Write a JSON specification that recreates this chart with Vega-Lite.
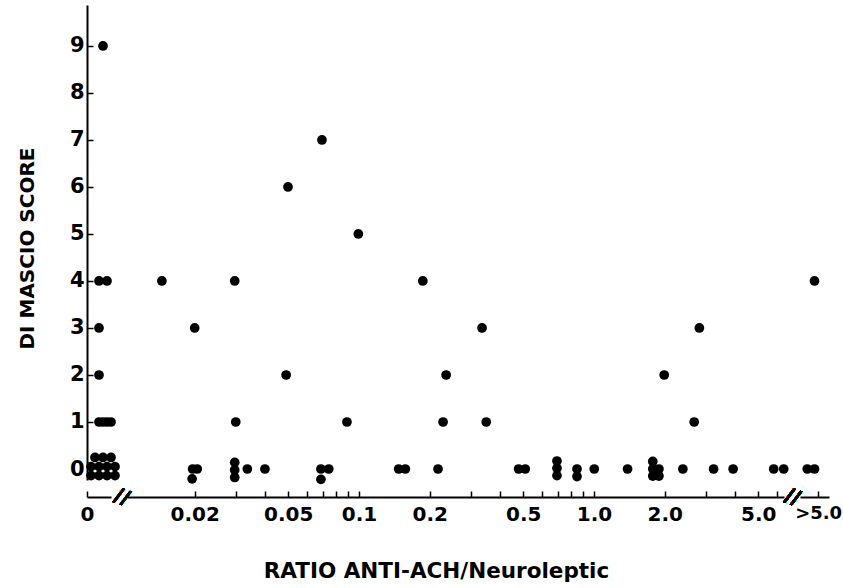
{
  "$schema": "https://vega.github.io/schema/vega-lite/v6.json",
  "background": "white",
  "padding": {"left": 17, "top": 5, "right": 0, "bottom": 0},
  "spacing": 16,
  "bounds": "flush",
  "config": {
    "view": {"stroke": null},
    "font": "DejaVu Sans",
    "axis": {
      "labelFont": "DejaVu Sans", "labelFontWeight": "bold", "labelFontSize": 20, "labelColor": "black",
      "titleFont": "DejaVu Sans", "titleFontWeight": "bold", "titleFontSize": 20, "titleColor": "black",
      "domainColor": "black", "domainWidth": 2, "tickColor": "black", "tickWidth": 1.5, "tickSize": -6,
      "grid": false, "labelOverlap": false, "labelFlush": false, "labelBound": false
    }
  },
  "datasets": {
    "zero": [
      {"tie_rank": 4, "score": 9},
      {"tie_rank": 3, "score": 4}, {"tie_rank": 5, "score": 4},
      {"tie_rank": 3, "score": 3},
      {"tie_rank": 3, "score": 2},
      {"tie_rank": 3, "score": 1}, {"tie_rank": 4, "score": 1}, {"tie_rank": 5, "score": 1}, {"tie_rank": 6, "score": 1},
      {"tie_rank": 2, "score": 0.245}, {"tie_rank": 4, "score": 0.245}, {"tie_rank": 6, "score": 0.245},
      {"tie_rank": 1, "score": 0.05}, {"tie_rank": 3, "score": 0.05}, {"tie_rank": 5, "score": 0.05}, {"tie_rank": 7, "score": 0.05},
      {"tie_rank": 1, "score": -0.14}, {"tie_rank": 3, "score": -0.14}, {"tie_rank": 5, "score": -0.14}, {"tie_rank": 7, "score": -0.14}
    ],
    "measured": [
      {"ratio": 0.0696, "score": 7},
      {"ratio": 0.0499, "score": 6},
      {"ratio": 0.0994, "score": 5},
      {"ratio": 0.0145, "score": 4}, {"ratio": 0.0296, "score": 4}, {"ratio": 0.187, "score": 4},
      {"ratio": 0.02, "score": 3}, {"ratio": 0.334, "score": 3}, {"ratio": 2.81, "score": 3},
      {"ratio": 0.049, "score": 2}, {"ratio": 0.235, "score": 2}, {"ratio": 1.99, "score": 2},
      {"ratio": 0.0299, "score": 1}, {"ratio": 0.0889, "score": 1}, {"ratio": 0.228, "score": 1}, {"ratio": 0.348, "score": 1}, {"ratio": 2.67, "score": 1},
      {"ratio": 0.0196, "score": 0}, {"ratio": 0.0205, "score": 0}, {"ratio": 0.0195, "score": -0.21},
      {"ratio": 0.0296, "score": 0.14}, {"ratio": 0.0296, "score": -0.02}, {"ratio": 0.0296, "score": -0.18},
      {"ratio": 0.0335, "score": 0},
      {"ratio": 0.0398, "score": 0},
      {"ratio": 0.0689, "score": 0}, {"ratio": 0.0744, "score": 0}, {"ratio": 0.0689, "score": -0.22},
      {"ratio": 0.1476, "score": 0}, {"ratio": 0.1575, "score": 0},
      {"ratio": 0.217, "score": 0},
      {"ratio": 0.478, "score": 0}, {"ratio": 0.51, "score": 0},
      {"ratio": 0.696, "score": 0.17}, {"ratio": 0.696, "score": 0.015}, {"ratio": 0.696, "score": -0.14},
      {"ratio": 0.847, "score": 0}, {"ratio": 0.847, "score": -0.16},
      {"ratio": 1.003, "score": 0},
      {"ratio": 1.39, "score": 0},
      {"ratio": 1.78, "score": 0.16}, {"ratio": 1.78, "score": 0}, {"ratio": 1.78, "score": -0.15},
      {"ratio": 1.89, "score": 0}, {"ratio": 1.89, "score": -0.15},
      {"ratio": 2.39, "score": 0},
      {"ratio": 3.23, "score": 0},
      {"ratio": 3.91, "score": 0},
      {"ratio": 5.82, "score": 0},
      {"ratio": 6.42, "score": 0}
    ],
    "above5": [
      {"tie_rank": 1, "score": 0}, {"tie_rank": 2, "score": 0}, {"tie_rank": 2, "score": 4}
    ]
  },
  "hconcat": [
    {
      "width": 24,
      "height": 475,
      "data": {"name": "zero"},
      "layer": [
        {
          "mark": {"type": "circle", "size": 95, "opacity": 1, "color": "black"},
          "encoding": {
            "x": {"field": "tie_rank", "type": "quantitative",
              "scale": {"domain": [0, 6], "nice": false, "zero": false},
              "axis": {"values": [0], "labelExpr": "'0'", "title": null, "offset": 17, "labelPadding": 13}},
            "y": {"field": "score", "type": "quantitative",
              "scale": {"domain": [-0.234, 9.872], "nice": false, "zero": false},
              "axis": {"values": [0, 1, 2, 3, 4, 5, 6, 7, 8, 9], "format": "d", "title": "DI MASCIO SCORE",
                "labelFontSize": 21, "labelPadding": 9, "titlePadding": 32, "titleY": 243}}
          }
        },
        {
          "mark": {"type": "text", "text": "//", "fontSize": 20, "fontWeight": "bold", "angle": 20, "color": "black", "font": "DejaVu Sans"},
          "encoding": {"x": {"datum": 8.75}, "y": {"datum": -0.596}}
        }
      ]
    },
    {
      "width": 657,
      "height": 475,
      "data": {"name": "measured"},
      "layer": [
        {
          "mark": {"type": "circle", "size": 95, "opacity": 1, "color": "black"},
          "encoding": {
            "x": {"field": "ratio", "type": "quantitative",
              "scale": {"type": "log", "domain": [0.010302, 6.438], "nice": false},
              "axis": {
                "values": [0.02, 0.03, 0.04, 0.05, 0.06, 0.07, 0.08, 0.09, 0.1, 0.2, 0.3, 0.4, 0.5, 0.6, 0.7, 0.8, 0.9, 1, 2, 3, 4, 5, 6],
                "labelExpr": "indexof([0.02, 0.05, 0.1, 0.2, 0.5, 1, 2, 5], datum.value) >= 0 ? (datum.value >= 1 ? format(datum.value, '.1f') : format(datum.value, '~g')) : ''",
                "title": "RATIO ANTI-ACH/Neuroleptic", "titleX": 309, "titlePadding": 36, "titleFontSize": 21.5,
                "offset": 17, "labelPadding": 13}},
            "y": {"field": "score", "type": "quantitative",
              "scale": {"domain": [-0.234, 9.872], "nice": false, "zero": false},
              "axis": null}
          }
        },
        {
          "mark": {"type": "text", "text": "//", "fontSize": 20, "fontWeight": "bold", "angle": 20, "color": "black", "font": "DejaVu Sans"},
          "encoding": {"x": {"datum": 7.0}, "y": {"datum": -0.596}}
        }
      ]
    },
    {
      "width": 29,
      "height": 475,
      "data": {"name": "above5"},
      "mark": {"type": "circle", "size": 95, "opacity": 1, "color": "black"},
      "encoding": {
        "x": {"field": "tie_rank", "type": "quantitative",
          "scale": {"domain": [0, 4], "nice": false, "zero": false},
          "axis": {"values": [2.5], "labelExpr": "'>5.0'", "title": null, "offset": 17, "labelPadding": 13,
            "labelFontSize": 18, "labelDx": -3}},
        "y": {"field": "score", "type": "quantitative",
          "scale": {"domain": [-0.234, 9.872], "nice": false, "zero": false},
          "axis": null}
      }
    }
  ]
}
